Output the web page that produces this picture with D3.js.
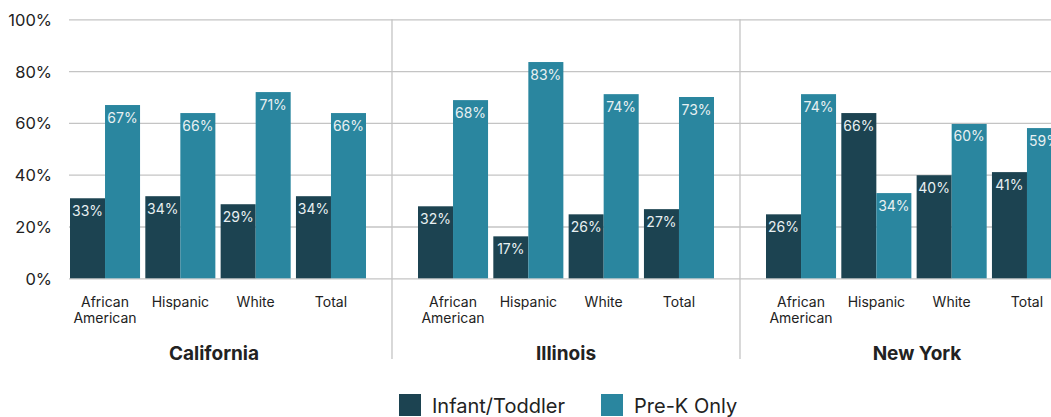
<!DOCTYPE html>
<html>
<head>
<meta charset="utf-8">
<script src="https://cdn.jsdelivr.net/npm/d3@7"></script>
<style>
  html, body { margin: 0; padding: 0; background: #fff; }
  svg { display: block; font-family: Inter, "Noto Sans", sans-serif; }
</style>
</head>
<body>
<svg id="chart" width="1051" height="417"></svg>
<script>
// ---- data ----
const states = ["California", "Illinois", "New York"];
const categories = ["African American", "Hispanic", "White", "Total"];
const seriesNames = ["Infant/Toddler", "Pre-K Only"];
// bar heights (percent)
const infantValues = [
  [30.9, 31.7, 28.6, 31.7],
  [27.8, 16.2, 24.7, 26.7],
  [24.7, 63.8, 39.8, 41.0]
];
const preKValues = [
  [66.9, 63.8, 71.9, 63.8],
  [68.8, 83.5, 71.1, 70.0],
  [71.1, 32.9, 59.6, 58.0]
];
// value labels as printed on the bars
const infantLabels = [
  ["33%", "34%", "29%", "34%"],
  ["32%", "17%", "26%", "27%"],
  ["26%", "66%", "40%", "41%"]
];
const preKLabels = [
  ["67%", "66%", "71%", "66%"],
  ["68%", "83%", "74%", "73%"],
  ["74%", "34%", "60%", "59%"]
];
const yTicks = [0, 20, 40, 60, 80, 100];

// ---- layout ----
const colors = ["#1c4351", "#2a869f"];
const svg = d3.select("#chart");
const W = 1051;
const plotLeft = 69, plotTop = 19.3, plotBottom = 278.3;

const y = d3.scaleLinear().domain([0, 100]).range([plotBottom, plotTop]);
const xState = d3.scaleBand().domain(states).range([44, 44 + 3 * 348]).padding(0);
const xCat = d3.scaleBand().domain(categories).range([26, 322]).paddingInner(0.07).paddingOuter(0);
const xSeries = d3.scaleBand().domain(seriesNames).range([0, xCat.bandwidth()]).padding(0);

// gridlines
const yAxis = d3.axisLeft(y).tickValues(yTicks).tickFormat(d => d + "%").tickSize(0).tickPadding(0);
const gy = svg.append("g").attr("transform", `translate(${plotLeft},0)`).call(yAxis);
gy.select(".domain").remove();
gy.selectAll(".tick line").remove();
gy.selectAll(".tick").append("line")
  .attr("x1", 0).attr("x2", W - plotLeft)
  .attr("stroke", "#c4c4c4").attr("stroke-width", 1.3);
gy.selectAll(".tick text")
  .attr("x", -17).attr("dy", "0.36em")
  .attr("font-size", 16.5).attr("fill", "#222").attr("font-family", "Inter, sans-serif");

// separators between states
svg.append("g").selectAll("line")
  .data(states.slice(1))
  .join("line")
  .attr("x1", d => xState(d)).attr("x2", d => xState(d))
  .attr("y1", plotTop).attr("y2", 359)
  .attr("stroke", "#c4c4c4").attr("stroke-width", 1.3);

// bars
const rows = [];
states.forEach((s, si) => {
  categories.forEach((c, ci) => {
    rows.push({ s, c, k: 0, v: infantValues[si][ci], label: infantLabels[si][ci] });
    rows.push({ s, c, k: 1, v: preKValues[si][ci], label: preKLabels[si][ci] });
  });
});
const bx = d => xState(d.s) + xCat(d.c) + xSeries(seriesNames[d.k]);

svg.append("g").selectAll("rect")
  .data(rows)
  .join("rect")
  .attr("x", bx)
  .attr("y", d => y(d.v))
  .attr("width", xSeries.bandwidth())
  .attr("height", d => y(0) - y(d.v))
  .attr("fill", d => colors[d.k]);

svg.append("g").selectAll("text")
  .data(rows)
  .join("text")
  .attr("x", d => bx(d) + xSeries.bandwidth() / 2)
  .attr("y", d => y(d.v) + 17.5)
  .attr("text-anchor", "middle")
  .attr("font-size", 14)
  .attr("fill", "#e8f0f2")
  .text(d => d.label);

// category labels
const stateLabelShift = [-4, 0, 3];
states.forEach((s, si) => {
  const g = svg.append("g");
  categories.forEach(c => {
    const cx = xState(s) + xCat(c) + xCat.bandwidth() / 2;
    const words = c.split(" ");
    const t = g.append("text")
      .attr("x", cx).attr("y", 307)
      .attr("text-anchor", "middle")
      .attr("font-size", 14)
      .attr("fill", "#222");
    words.forEach((w, i) => {
      t.append("tspan").attr("x", cx).attr("dy", i === 0 ? 0 : 16).text(w);
    });
  });
  const first = xState(s) + xCat(categories[0]);
  const last = xState(s) + xCat(categories[categories.length - 1]) + xCat.bandwidth();
  svg.append("text")
    .attr("x", (first + last) / 2 + stateLabelShift[si]).attr("y", 360)
    .attr("text-anchor", "middle")
    .attr("font-size", 19).attr("font-weight", 700)
    .attr("fill", "#222")
    .text(s);
});

// legend
const legendX = [399, 601];
const lg = svg.append("g");
seriesNames.forEach((n, i) => {
  lg.append("rect").attr("x", legendX[i]).attr("y", 394).attr("width", 22).attr("height", 22).attr("fill", colors[i]);
  lg.append("text").attr("x", legendX[i] + 33).attr("y", 412.5)
    .attr("font-size", 20).attr("fill", "#222").text(n);
});
</script>
</body>
</html>
